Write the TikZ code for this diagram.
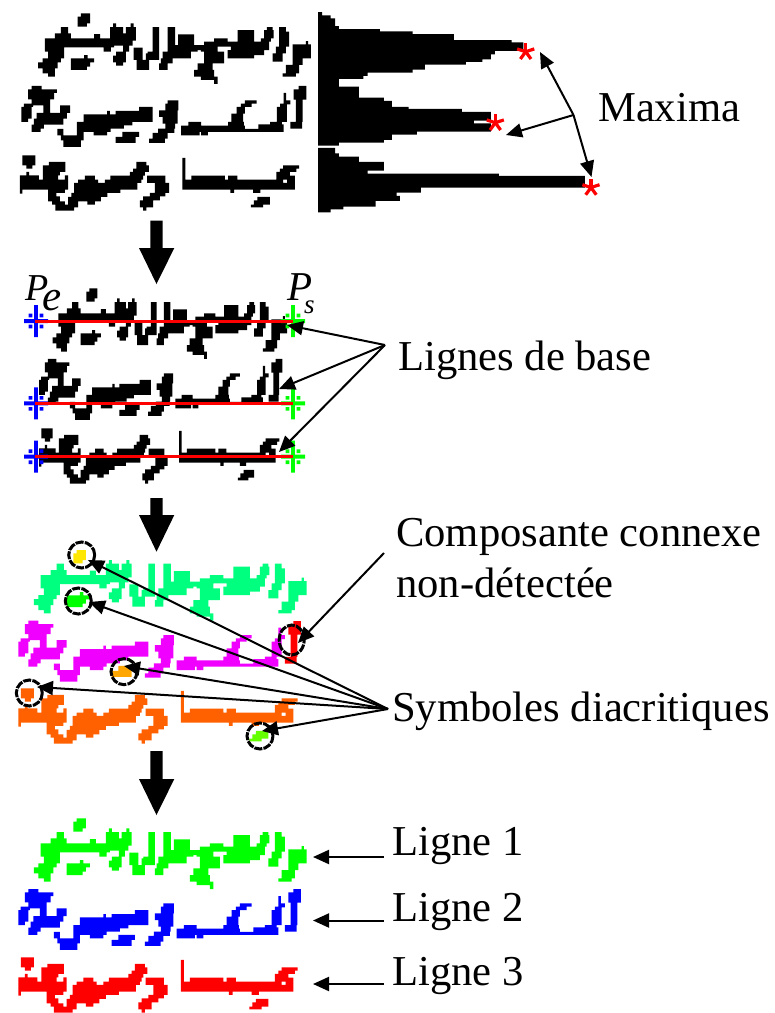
\documentclass[tikz,border=0pt]{standalone}
\usepackage{fontspec}
\setmainfont{Liberation Serif}
\usetikzlibrary{arrows.meta}
% ---- glyph data, in units of 1/3 pixel, y downward ----
\newcommand\LAdotA{(230,25)rectangle(258,35) (220,35)rectangle(258,55) (220,55)rectangle(248,65)}
\newcommand\LAdotB{(240,150)rectangle(250,160) (200,160)rectangle(270,172) (200,172)rectangle(258,185) (200,185)rectangle(248,195)}
\newcommand\LAbody{(170,66)rectangle(192,85) (152,85)rectangle(200,100) (270,87)rectangle(288,100) (122,100)rectangle(330,127) (122,127)rectangle(180,140) (298,127)rectangle(320,140) (132,140)rectangle(180,160) (115,160)rectangle(170,172) (102,172)rectangle(160,190) (115,190)rectangle(152,205) (132,205)rectangle(152,215)
(327,55)rectangle(336,66) (379,55)rectangle(388,66) (318,66)rectangle(357,85) (365,66)rectangle(395,85) (318,85)rectangle(395,107) (320,107)rectangle(385,122) (357,122)rectangle(375,140) (336,140)rectangle(365,152) (327,152)rectangle(365,172) (336,172)rectangle(357,182)
(388,128)rectangle(415,165) (397,165)rectangle(435,195) (425,145)rectangle(445,165) (445,66)rectangle(465,150) (430,140)rectangle(465,165)
(490,66)rectangle(513,140) (475,140)rectangle(560,160) (470,160)rectangle(505,175) (465,175)rectangle(490,195) (522,88)rectangle(570,120) (513,120)rectangle(580,140) (580,120)rectangle(600,135)
(630,100)rectangle(670,110) (600,110)rectangle(680,125) (590,125)rectangle(640,140) (600,140)rectangle(660,175) (580,175)rectangle(625,195) (570,195)rectangle(630,215) (590,215)rectangle(640,225) (630,225)rectangle(640,237)
(700,75)rectangle(750,110) (680,110)rectangle(795,135) (670,135)rectangle(750,160) (750,135)rectangle(780,150) (788,66)rectangle(805,75) (780,75)rectangle(808,100) (770,100)rectangle(800,110)
(825,66)rectangle(845,80) (825,80)rectangle(855,125) (815,125)rectangle(845,145) (805,145)rectangle(835,170)
(905,108)rectangle(912,118) (865,118)rectangle(920,160) (865,160)rectangle(895,180) (845,180)rectangle(885,205) (835,205)rectangle(875,215)}
\newcommand\LBdot{(355,375)rectangle(405,390) (335,390)rectangle(395,408)}
\newcommand\LBpiece{(880,237)rectangle(903,247) (865,247)rectangle(903,278) (872,278)rectangle(892,345) (855,345)rectangle(890,365)}
\newcommand\LBbody{(85,237)rectangle(115,247) (75,247)rectangle(160,258) (75,258)rectangle(152,277) (85,277)rectangle(140,295) (62,290)rectangle(90,300) (55,300)rectangle(85,335) (55,335)rectangle(75,345) (120,295)rectangle(140,318) (170,295)rectangle(200,318) (100,318)rectangle(190,335) (92,335)rectangle(180,353) (85,353)rectangle(122,365) (85,365)rectangle(112,375)
(162,366)rectangle(180,385) (172,385)rectangle(240,400) (180,400)rectangle(232,420) (220,345)rectangle(385,355) (310,312)rectangle(318,322) (240,322)rectangle(445,345) (405,300)rectangle(445,322) (335,312)rectangle(405,322) (220,355)rectangle(360,365) (220,365)rectangle(320,375) (220,375)rectangle(240,385) (270,375)rectangle(310,385)
(490,280)rectangle(522,290) (483,290)rectangle(522,310) (465,310)rectangle(520,330) (475,330)rectangle(520,350) (483,350)rectangle(512,365) (462,365)rectangle(510,378) (445,378)rectangle(490,395) (435,395)rectangle(482,408)
(552,345)rectangle(590,356) (530,356)rectangle(585,385) (585,356)rectangle(720,366) (530,366)rectangle(835,375) (590,375)rectangle(610,385)
(720,280)rectangle(755,290) (708,290)rectangle(740,300) (695,300)rectangle(720,320) (680,320)rectangle(715,345) (670,345)rectangle(717,366)
(760,352)rectangle(835,366) (795,345)rectangle(830,352) (815,300)rectangle(845,345) (825,290)rectangle(845,300) (835,280)rectangle(855,292) (835,258)rectangle(843,280)}
\newcommand\LCdotA{(63,442)rectangle(102,472) (75,472)rectangle(93,482)}
\newcommand\LCdotB{(768,567)rectangle(805,577) (757,577)rectangle(805,590) (748,590)rectangle(785,598)}
\newcommand\LCbody{(75,492)rectangle(83,502) (142,462)rectangle(192,472) (124,472)rectangle(192,492) (124,492)rectangle(175,502) (55,502)rectangle(112,515) (124,502)rectangle(170,515) (190,502)rectangle(200,515) (55,515)rectangle(200,545) (55,545)rectangle(63,557) (140,545)rectangle(190,555) (140,555)rectangle(165,565) (140,565)rectangle(175,580) (152,580)rectangle(190,590) (162,590)rectangle(230,598) (162,598)rectangle(218,608)
(250,503)rectangle(280,515) (230,515)rectangle(290,525) (218,525)rectangle(408,545) (310,515)rectangle(420,525) (218,545)rectangle(357,555) (210,555)rectangle(318,567) (200,567)rectangle(298,580) (200,580)rectangle(230,590) (258,580)rectangle(280,590)
(405,462)rectangle(435,472) (405,472)rectangle(442,482) (395,482)rectangle(442,492) (385,492)rectangle(430,503) (327,503)rectangle(425,515)
(437,503)rectangle(492,525) (460,525)rectangle(503,555) (445,555)rectangle(492,565) (425,565)rectangle(475,577) (415,577)rectangle(455,598) (425,598)rectangle(435,608)
(543,450)rectangle(552,515) (570,503)rectangle(670,515) (680,503)rectangle(708,515) (543,515)rectangle(845,525) (857,515)rectangle(880,525) (543,525)rectangle(880,545) (687,545)rectangle(698,555) (755,545)rectangle(777,555)
(845,472)rectangle(893,482) (835,482)rectangle(885,492) (825,492)rectangle(865,503) (825,503)rectangle(880,515)  (825,515)rectangle(845,525)}
% ---- place a fragment: x0, y0, x unit, colour, data ----
\newcommand\glyphs[5]{\begin{scope}[shift={(#1pt,-#2pt)},x=#3pt,y=-0.3333pt]\fill[#4] #5;\end{scope}}
\newcommand\pxstar[2]{\begin{scope}[shift={(#1)}]\fill[#2] (-1.8,-16)rectangle(1.8,16) (-12,-2)rectangle(12,2) (-7.3,-7.3)rectangle(-3.7,-3.7) (3.7,-7.3)rectangle(7.3,-3.7) (-7.3,3.7)rectangle(-3.7,7.3) (3.7,3.7)rectangle(7.3,7.3);\end{scope}}
\newcommand\astmark[1]{\foreach \aa in {90,162,234,306,18}{\draw[starmark] (#1) -- ++(\aa:9);}}
\definecolor{cmint}{HTML}{00FF7F}
\definecolor{cmag}{HTML}{F000FF}
\definecolor{corange}{HTML}{FF6000}
\definecolor{cgreen}{HTML}{00FF00}
\definecolor{cblue}{HTML}{0000FF}
\definecolor{cred}{HTML}{FF0000}
\tikzset{
  lead/.style={line width=2pt,-{Triangle[length=16pt,width=14pt]}},
  starmark/.style={cred,line width=3.2pt},
  dashring/.style={draw=black,line width=3pt,dash pattern=on 8pt off 1.2pt,fill=none},
  label/.style={anchor=base west,inner sep=0pt,font=\fontsize{42.6}{44}\selectfont},
  bigarrow/.style={fill=black},
  baseline rule/.style={cred,line width=3pt}
}
\begin{document}
\begin{tikzpicture}[x=1pt,y=1pt]
\useasboundingbox (0,0) rectangle (775,-1013);
\fill[white] (0,0) rectangle (775,-1013);
% block 1
\glyphs{4.2}{5}{0.3333}{black}{\LAbody \LAdotA \LAdotB}
\glyphs{3}{7}{0.336}{black}{\LBbody \LBdot \LBpiece}
\glyphs{1.5}{8}{0.3333}{black}{\LCbody \LCdotA \LCdotB}
% histogram
\begin{scope}[shift={(310pt,0pt)},x=0.3333pt,y=-0.3333pt]
\fill[black] (24,36)--(36,36)--(36,46)--(62,46)--(62,55)--(75,55)--(75,78)--(87,78)--(87,87)--(210,87)--(210,94)--(308,94)--(308,102)--(432,102)--(432,120)--(605,120)--(605,127)--(640,127)--(640,153)--(555,153)--(555,163)--(543,163)--(543,178)--(517,178)--(517,186)--(468,186)--(468,194)--(345,194)--(345,209)--(308,209)--(308,218)--(173,218)--(173,228)--(160,228)--(160,237)--(87,237)--(87,260)--(147,260)--(147,293)--(222,293)--(222,303)--(246,303)--(246,321)--(296,321)--(296,327)--(456,327)--(456,336)--(543,336)--(543,362)--(492,362)--(492,370)--(543,370)--(543,395)--(321,395)--(321,404)--(246,404)--(246,420)--(222,420)--(222,428)--(87,428)--(87,437)--(24,437)--cycle;
\fill[black] (24,444)--(75,444)--(75,460)--(87,460)--(87,470)--(147,470)--(147,486)--(222,486)--(222,512)--(173,512)--(173,521)--(567,521)--(567,528)--(825,528)--(825,563)--(333,563)--(333,578)--(260,578)--(260,588)--(270,588)--(270,603)--(197,603)--(197,620)--(100,620)--(100,628)--(62,628)--(62,637)--(24,637)--cycle;
\end{scope}
\astmark{525.7,-51.7}
\astmark{495.3,-122.7}
\astmark{591,-187.5}
\coordinate (mxj) at (573.5,-115);
\coordinate (mxa) at (540,-52);
\coordinate (mxb) at (506,-135);
\coordinate (mxc) at (591.5,-177);
\draw[lead] (mxj) -- (mxa);
\draw[lead] (mxj) -- (mxb);
\draw[lead] (mxj) -- (mxc);
\node[label] (maxima) at (598,-121) {Maxima};
% big arrows
\fill[bigarrow] (150.3,-220.7)--(162.7,-220.7)--(162.7,-248)--(174.3,-248)--(156.5,-284)--(139,-248)--(150.3,-248)--cycle;
\fill[bigarrow] (150.3,-498)--(162.7,-498)--(162.7,-515)--(174.3,-515)--(156.5,-551.7)--(139,-515)--(150.3,-515)--cycle;
\fill[bigarrow] (150.3,-751)--(162.7,-751)--(162.7,-779)--(174.3,-779)--(156.5,-815)--(139,-779)--(150.3,-779)--cycle;
% block 2
\glyphs{23.4}{280}{0.2867}{black}{\LAbody \LAdotA \LAdotB}
\glyphs{23.4}{280}{0.2867}{black}{\LBbody \LBdot \LBpiece}
\glyphs{23.4}{281}{0.2867}{black}{\LCbody \LCdotA \LCdotB}
\pxstar{36,-321}{cblue}
\pxstar{36,-403.3}{cblue}
\pxstar{36,-456.7}{cblue}
\pxstar{293,-321}{cgreen}
\pxstar{293,-403.3}{cgreen}
\pxstar{293,-456.7}{cgreen}
\coordinate (ba) at (35,-321);
\coordinate (bb) at (293,-321);
\coordinate (bc) at (35,-403.3);
\coordinate (bd) at (293,-403.3);
\coordinate (be) at (35,-456.7);
\coordinate (bf) at (293,-456.7);
\draw[baseline rule] (ba) -- (bb);
\draw[baseline rule] (bc) -- (bd);
\draw[baseline rule] (be) -- (bf);
\node[anchor=base west,inner sep=0pt,font=\fontsize{38}{38}\selectfont\itshape] (pe) at (25,-300) {P\kern-6pt\raisebox{-10pt}{\fontsize{43}{43}\selectfont e}};
\node[anchor=base west,inner sep=0pt,font=\fontsize{41}{41}\selectfont\itshape] (ps) at (287,-300) {P\kern-8pt\raisebox{-13pt}{\fontsize{27}{27}\selectfont s}};
\coordinate (blj) at (385,-345);
\coordinate (bla) at (287,-325);
\coordinate (blb) at (279,-389);
\coordinate (blc) at (279,-452);
\draw[lead] (blj) -- (bla);
\draw[lead] (blj) -- (blb);
\draw[lead] (blj) -- (blc);
\node[label] (lignes) at (398,-370) {Lignes de base};
% block 3
\glyphs{0}{541.7}{0.3333}{cmint}{\LAbody}
\glyphs{0}{541.7}{0.3333}{cmag}{\LBbody}
\glyphs{0}{541}{0.3333}{corange}{\LCbody}
\glyphs{0}{542}{0.3333}{cred}{\LBpiece}
\glyphs{0}{541.7}{0.3333}{yellow!95!red}{\LAdotA}
\glyphs{0}{542}{0.3333}{cgreen}{\LAdotB}
\glyphs{0}{541}{0.3333}{orange!70!yellow}{\LBdot}
\glyphs{0}{541}{0.3333}{corange}{\LCdotA}
\glyphs{0}{542}{0.3333}{green!60!yellow}{\LCdotB}
\draw[dashring] (81.7,-555) circle (13);
\draw[dashring] (78.3,-601) circle (13);
\draw[dashring] (124,-671.7) circle (13);
\draw[dashring] (29.3,-693) circle (13);
\draw[dashring] (260,-736) circle (13);
\draw[dashring] (291.7,-640) ellipse (12.5 and 15);
\coordinate (ccj) at (384,-553);
\coordinate (cct) at (298,-643);
\draw[lead] (ccj) -- (cct);
\node[label] (comp) at (396,-546) {Composante connexe};
\node[label] (nond) at (396,-597) {non-détectée};
\coordinate (syj) at (388,-709);
\coordinate (sya) at (88,-560);
\coordinate (syb) at (89,-602);
\coordinate (syc) at (124,-666);
\coordinate (syd) at (37,-687);
\coordinate (sye) at (262,-731);
\draw[lead] (syj) -- (sya);
\draw[lead] (syj) -- (syb);
\draw[lead] (syj) -- (syc);
\draw[lead] (syj) -- (syd);
\draw[lead] (syj) -- (sye);
\node[label] (symb) at (392,-721) {Symboles diacritiques};
% block 4
\glyphs{0}{810}{0.3333}{cgreen}{\LAbody \LAdotA \LAdotB}
\glyphs{0}{810}{0.3333}{cblue}{\LBbody \LBdot \LBpiece}
\glyphs{0}{810}{0.3333}{cred}{\LCbody \LCdotA \LCdotB}
\coordinate (laj) at (384,-857);
\coordinate (lat) at (313,-857);
\coordinate (lbj) at (384,-920.5);
\coordinate (lbt) at (313,-920.5);
\coordinate (lcj) at (384,-984);
\coordinate (lct) at (313,-984);
\draw[lead] (laj) -- (lat);
\draw[lead] (lbj) -- (lbt);
\draw[lead] (lcj) -- (lct);
\node[label] (l1) at (392,-855) {Ligne 1};
\node[label] (l2) at (392,-921) {Ligne 2};
\node[label] (l3) at (392,-985) {Ligne 3};
\end{tikzpicture}
\end{document}
